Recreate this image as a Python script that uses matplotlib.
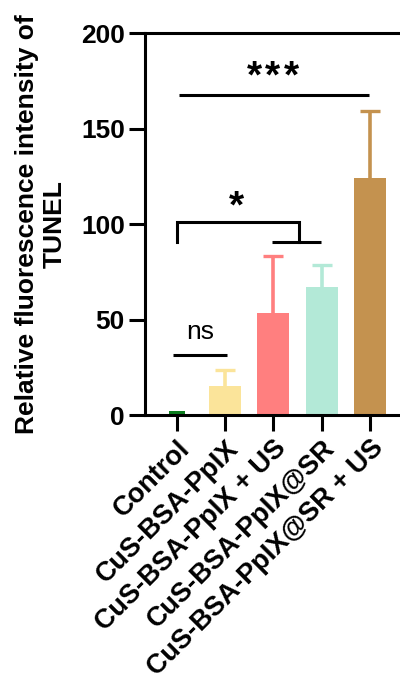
import matplotlib
matplotlib.use("Agg")
import matplotlib.pyplot as plt

categories = ["Control", "CuS-BSA-PpIX", "CuS-BSA-PpIX + US", "CuS-BSA-PpIX@SR", "CuS-BSA-PpIX@SR + US"]
means = [2.3, 15.3, 53.2, 67.1, 124.1]
errors = [0.0, 8.2, 29.9, 11.3, 35.0]
colors = ["#0B7D1E", "#FBE49A", "#FF7F7F", "#B3E9D7", "#C4924F"]
yticks = [0, 50, 100, 150, 200]

plt.rcParams["font.family"] = ["Liberation Sans", "DejaVu Sans"]

fig = plt.figure(figsize=(4.0, 6.75), dpi=100)
ax = fig.add_axes([0.3625, 0.385, 0.659, 0.566])

x = list(range(len(categories)))
widths = [0.33, 0.66, 0.66, 0.66, 0.66]
ax.bar(x, means, width=widths, color=colors, zorder=2)
for xi, m, e, c in zip(x, means, errors, colors):
    if e > 0:
        _, caps, _ = ax.errorbar(xi, m, yerr=[[0], [e]], fmt="none", ecolor=c, elinewidth=2.6,
                                 capsize=7.5, capthick=2.4, zorder=1)
        caps[0].set_visible(False)

ax.set_xlim(-0.66, 4.8)
ax.set_ylim(0, 200)
ax.set_yticks(yticks)
ax.set_yticklabels([str(t) for t in yticks], fontsize=19, fontweight="bold")
ax.set_xticks(x)
ax.set_xticklabels(categories, rotation=45, ha="right", rotation_mode="anchor",
                   fontsize=19.5, fontweight="bold")
ax.tick_params(axis="both", length=11.5, width=2.2, pad=3)
for s in ["left", "bottom", "top"]:
    ax.spines[s].set_linewidth(2.2)
ax.spines["right"].set_visible(False)
ax.set_ylabel("Relative fluorescence intensity of\nTUNEL", fontsize=19, fontweight="bold",
              linespacing=1.2)
ax.yaxis.set_label_coords(-0.296, 0.5)

lw = 2.2
# ns
ax.plot([-0.08, 1.03], [31.4, 31.4], color="black", lw=lw, solid_capstyle="butt")
ax.text(0.48, 37, "ns", ha="center", va="bottom", fontsize=19)
# * bracket
ax.plot([0, 0, 2.52, 2.52], [90.5, 101, 101, 90.5], color="black", lw=lw, solid_joinstyle="miter")
ax.plot([1.98, 2.98], [90.5, 90.5], color="black", lw=lw, solid_capstyle="butt")
ax.text(1.24, 99.5, "*", ha="center", va="bottom", fontsize=28, fontweight="bold")
# ***
ax.plot([0.05, 3.98], [167.8, 167.8], color="black", lw=lw, solid_capstyle="butt")
for dx in (-0.38, 0.0, 0.38):
    ax.text(1.99 + dx, 167.5, "*", ha="center", va="bottom", fontsize=28, fontweight="bold")

fig.savefig("out.png", dpi=100)
